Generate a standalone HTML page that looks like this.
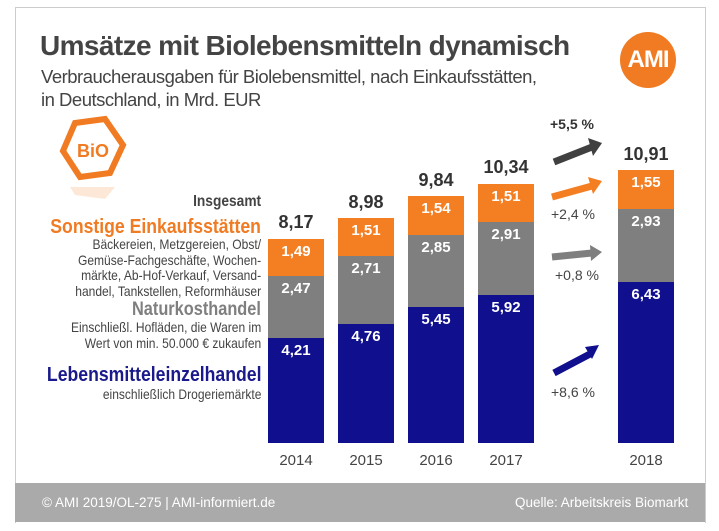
<!DOCTYPE html>
<html><head><meta charset="utf-8"><style>
body{margin:0;width:719px;height:531px;background:#fff;position:relative;overflow:hidden;font-family:"Liberation Sans",sans-serif;}
.a{position:absolute;white-space:nowrap;}
.r{text-align:right;transform-origin:right center;}
.s{transform:scaleX(0.86);}
.bar{position:absolute;width:56px;}
.v{position:absolute;width:56px;text-align:center;color:#fff;font-weight:bold;font-size:15px;}
.t{position:absolute;width:80px;text-align:center;color:#333;font-weight:bold;font-size:18px;}
.y{position:absolute;width:80px;text-align:center;color:#444;font-size:15px;}
</style></head><body>
<div class="a" style="left:15px;top:7px;width:689px;height:515px;border:1px solid #ccc;border-bottom:none;"></div>
<div class="a" style="left:40px;top:30px;font-size:28px;font-weight:bold;color:#444;letter-spacing:-0.6px">Umsätze mit Biolebensmitteln dynamisch</div>
<div class="a" style="left:41px;top:65px;font-size:18.5px;color:#444;line-height:23px;letter-spacing:-0.5px">Verbraucherausgaben für Biolebensmittel, nach Einkaufsstätten,<br>in Deutschland, in Mrd. EUR</div>
<div class="a" style="left:620px;top:32px;width:56px;height:56px;border-radius:50%;background:#f07b22;color:#fff;font-weight:bold;font-size:24px;text-align:center;line-height:56px;letter-spacing:-1px">AMI</div>
<svg class="a" style="left:55px;top:115px" width="80" height="90">
<polygon points="20,8 50,4 68,30 55,58 25,62 8,36" fill="none" stroke="#f07b22" stroke-width="6"/>
<text x="38" y="42" text-anchor="middle" font-family="Liberation Sans" font-weight="bold" font-size="18" fill="#f07b22">BiO</text>
<polygon points="20,80 50,84 60,72 15,72" fill="#fbd9bd" opacity="0.6"/>
</svg>
<div class="a r s" style="right:458px;top:193px;font-size:16px;font-weight:bold;color:#444">Insgesamt</div>
<div class="a r s" style="right:458px;top:215px;font-size:20.5px;font-weight:bold;color:#f07b22">Sonstige Einkaufsstätten</div>
<div class="a r s" style="right:458px;top:237px;font-size:14px;line-height:15.5px;color:#444">Bäckereien, Metzgereien, Obst/<br>Gemüse-Fachgeschäfte, Wochen-<br>märkte, Ab-Hof-Verkauf, Versand-<br>handel, Tankstellen, Reformhäuser</div>
<div class="a r s" style="right:458px;top:299px;font-size:19px;font-weight:bold;color:#7f7f7f">Naturkosthandel</div>
<div class="a r s" style="right:458px;top:320px;font-size:14px;line-height:15.5px;color:#444">Einschließl. Hofläden, die Waren im<br>Wert von min. 50.000 € zukaufen</div>
<div class="a r s" style="right:458px;top:363px;font-size:20.5px;font-weight:bold;color:#1a1a8c">Lebensmitteleinzelhandel</div>
<div class="a r s" style="right:458px;top:386px;font-size:14px;color:#444">einschließlich Drogeriemärkte</div>

<div class="bar" style="left:268px;top:338px;height:105px;background:#10108f"></div>
<div class="bar" style="left:268px;top:276px;height:62px;background:#7f7f7f"></div>
<div class="bar" style="left:268px;top:239px;height:37px;background:#f47f22"></div>
<div class="v" style="left:268px;top:342px">4,21</div><div class="v" style="left:268px;top:280px">2,47</div><div class="v" style="left:268px;top:243px">1,49</div>
<div class="t" style="left:256px;top:212px">8,17</div><div class="y" style="left:256px;top:452px">2014</div>

<div class="bar" style="left:338px;top:324px;height:119px;background:#10108f"></div>
<div class="bar" style="left:338px;top:256px;height:68px;background:#7f7f7f"></div>
<div class="bar" style="left:338px;top:218px;height:38px;background:#f47f22"></div>
<div class="v" style="left:338px;top:328px">4,76</div><div class="v" style="left:338px;top:260px">2,71</div><div class="v" style="left:338px;top:222px">1,51</div>
<div class="t" style="left:326px;top:192px">8,98</div><div class="y" style="left:326px;top:452px">2015</div>

<div class="bar" style="left:408px;top:307px;height:136px;background:#10108f"></div>
<div class="bar" style="left:408px;top:235px;height:72px;background:#7f7f7f"></div>
<div class="bar" style="left:408px;top:196px;height:39px;background:#f47f22"></div>
<div class="v" style="left:408px;top:311px">5,45</div><div class="v" style="left:408px;top:239px">2,85</div><div class="v" style="left:408px;top:200px">1,54</div>
<div class="t" style="left:396px;top:170px">9,84</div><div class="y" style="left:396px;top:452px">2016</div>

<div class="bar" style="left:478px;top:295px;height:148px;background:#10108f"></div>
<div class="bar" style="left:478px;top:222px;height:73px;background:#7f7f7f"></div>
<div class="bar" style="left:478px;top:184px;height:38px;background:#f47f22"></div>
<div class="v" style="left:478px;top:299px">5,92</div><div class="v" style="left:478px;top:226px">2,91</div><div class="v" style="left:478px;top:188px">1,51</div>
<div class="t" style="left:466px;top:157px">10,34</div><div class="y" style="left:466px;top:452px">2017</div>

<div class="bar" style="left:618px;top:282px;height:161px;background:#10108f"></div>
<div class="bar" style="left:618px;top:209px;height:73px;background:#7f7f7f"></div>
<div class="bar" style="left:618px;top:170px;height:39px;background:#f47f22"></div>
<div class="v" style="left:618px;top:286px">6,43</div><div class="v" style="left:618px;top:213px">2,93</div><div class="v" style="left:618px;top:174px">1,55</div>
<div class="t" style="left:606px;top:144px">10,91</div><div class="y" style="left:606px;top:452px">2018</div>

<svg class="a" style="left:540px;top:130px" width="70" height="260">
<g stroke-width="7" fill="none">
<line x1="14" y1="32" x2="52" y2="17" stroke="#404040"/>
<line x1="12" y1="67" x2="52" y2="56" stroke="#f47f22"/>
<line x1="12" y1="127" x2="52" y2="123" stroke="#7f7f7f"/>
<line x1="14" y1="243" x2="50" y2="224" stroke="#10108f"/>
</g>
<polygon points="48,8 62,13 53,26" fill="#404040"/>
<polygon points="48,47 62,51 53,64" fill="#f47f22"/>
<polygon points="50,115 62,122 51,131" fill="#7f7f7f"/>
<polygon points="45,217 59,215 52,229" fill="#10108f"/>
</svg>
<div class="a" style="left:550px;top:116px;font-size:14px;font-weight:bold;color:#333">+5,5 %</div>
<div class="a" style="left:551px;top:206px;font-size:14px;color:#444">+2,4 %</div>
<div class="a" style="left:555px;top:267px;font-size:14px;color:#444">+0,8 %</div>
<div class="a" style="left:551px;top:384px;font-size:14px;color:#444">+8,6 %</div>

<div class="a" style="left:15px;top:483px;width:690px;height:39px;background:#aaa"></div>
<div class="a" style="left:42px;top:495px;font-size:13.5px;color:#fff">© AMI 2019/OL-275 | AMI-informiert.de</div>
<div class="a" style="left:515px;top:495px;font-size:13.5px;color:#fff">Quelle: Arbeitskreis Biomarkt</div>
</body></html>
